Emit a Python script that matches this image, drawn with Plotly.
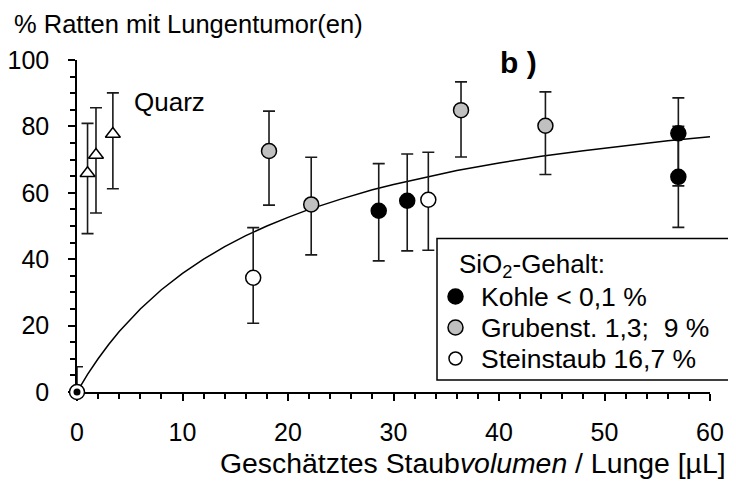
import plotly.graph_objects as go

# ---- data ----
kohle_x = [28.6, 31.3, 57.0, 57.0]
kohle_y = [54.6, 57.6, 77.9, 64.8]
kohle_hi = [68.8, 71.7, 88.6, 80.0]
kohle_lo = [39.5, 42.5, 62.1, 49.6]

grube_x = [18.2, 22.2, 36.4, 44.4]
grube_y = [72.6, 56.5, 84.9, 80.2]
grube_hi = [84.6, 70.7, 93.4, 90.4]
grube_lo = [56.3, 41.3, 70.8, 65.5]

stein_x = [16.7, 33.3]
stein_y = [34.4, 57.9]
stein_hi = [49.5, 72.2]
stein_lo = [20.7, 42.7]

quarz_x = [1.0, 1.8, 3.4]
quarz_y = [65.9, 71.4, 77.7]
quarz_hi = [80.9, 85.6, 90.1]
quarz_lo = [47.7, 53.9, 61.2]

kontrolle_x = [0.0]
kontrolle_y = [0.0]
kontrolle_hi = [7.6]
kontrolle_lo = [0.0]

curve_x = [0, 1, 2, 3, 4, 5, 6, 8, 10, 12, 14, 16, 18, 20, 22, 25, 28, 30, 33, 36, 40, 44, 48, 52, 56, 60]
curve_y = [0, 5.3, 10.0, 14.3, 18.2, 21.7, 25.0, 30.8, 35.7, 40.0, 43.8, 47.1, 50.0, 52.6, 55.0,
           58.1, 60.9, 62.5, 64.7, 66.7, 69.0, 71.0, 72.7, 74.3, 75.7, 76.9]

x_ticks = [0, 10, 20, 30, 40, 50, 60]
y_ticks = [0, 20, 40, 60, 80, 100]

legend_title = "SiO<sub>2</sub>-Gehalt:"
legend_labels = ["Kohle < 0,1 %", "Grubenst. 1,3;  9 %", "Steinstaub 16,7 %"]
legend_fills = ["#000000", "#c0c0c0", "#ffffff"]

FONT = "Liberation Sans, Arial, sans-serif"

# plot-area geometry (pixels in the final page)
PL, PT, PW, PH = 77, 60, 633, 332
XR, YR = (0, 60), (0, 100)


def px2x(px):
    return XR[0] + (px - PL) / PW * (XR[1] - XR[0])


def py2y(py):
    return YR[0] + (PT + PH - py) / PH * (YR[1] - YR[0])


def px2paper(px):
    return (px - PL) / PW


def py2paper(py):
    return (PT + PH - py) / PH


def err(y, hi, lo):
    return dict(type="data", symmetric=False,
                array=[h - v for h, v in zip(hi, y)],
                arrayminus=[v - l for v, l in zip(y, lo)],
                width=6, thickness=1.6, color="#1a1a1a")


fig = go.Figure()

fig.add_trace(go.Scatter(x=curve_x, y=curve_y, mode="lines",
                         line=dict(color="black", width=1.5),
                         showlegend=False, hoverinfo="skip", cliponaxis=False))

fig.add_trace(go.Scatter(x=quarz_x, y=quarz_y, mode="markers",
                         marker=dict(symbol="triangle-up", size=13, color="white",
                                     line=dict(color="black", width=1.5)),
                         error_y=err(quarz_y, quarz_hi, quarz_lo),
                         showlegend=False, cliponaxis=False))

fig.add_trace(go.Scatter(x=kontrolle_x, y=kontrolle_y, mode="markers",
                         marker=dict(symbol="circle", size=15, color="white",
                                     line=dict(color="black", width=1.5)),
                         error_y=err(kontrolle_y, kontrolle_hi, kontrolle_lo),
                         showlegend=False, cliponaxis=False))
fig.add_trace(go.Scatter(x=kontrolle_x, y=kontrolle_y, mode="markers",
                         marker=dict(symbol="circle", size=7, color="black"),
                         showlegend=False, cliponaxis=False))

for xs, ys, hi, lo, fill in [(kohle_x, kohle_y, kohle_hi, kohle_lo, legend_fills[0]),
                             (grube_x, grube_y, grube_hi, grube_lo, legend_fills[1]),
                             (stein_x, stein_y, stein_hi, stein_lo, legend_fills[2])]:
    fig.add_trace(go.Scatter(x=xs, y=ys, mode="markers",
                             marker=dict(symbol="circle", size=15, color=fill,
                                         line=dict(color="black", width=1.5)),
                             error_y=err(ys, hi, lo), showlegend=False, cliponaxis=False))

axis_common = dict(showline=True, linecolor="black", linewidth=1.5, showgrid=False,
                   zeroline=False, ticks="outside", ticklen=7, tickwidth=1.5,
                   tickcolor="black", automargin=False, layer="below traces",
                   tickfont=dict(family=FONT, size=25, color="black"))

fig.update_xaxes(range=list(XR), tickvals=x_ticks, ticktext=[str(v) for v in x_ticks],
                 minor=dict(dtick=2, ticklen=5, tickwidth=1.5, tickcolor="black",
                            ticks="outside", showgrid=False),
                 ticklabelstandoff=10, **axis_common)
fig.update_yaxes(range=list(YR), tickvals=y_ticks, ticktext=[str(v) for v in y_ticks],
                 minor=dict(dtick=5, ticklen=5, tickwidth=1.5, tickcolor="black",
                            ticks="outside", showgrid=False),
                 ticklabelstandoff=14, **axis_common)

fig.add_annotation(text="% Ratten mit Lungentumor(en)", xref="paper", yref="paper",
                   x=px2paper(12), y=py2paper(24), xanchor="left", yanchor="middle",
                   showarrow=False, font=dict(family=FONT, size=25.5, color="black"))
fig.add_annotation(text="Geschätztes Staub<i>volumen</i> / Lunge [µL]", xref="paper",
                   yref="paper", x=px2paper(728), y=py2paper(463), xanchor="right",
                   yanchor="middle", showarrow=False,
                   font=dict(family=FONT, size=28.4, color="black"))
fig.add_annotation(text="Quarz", x=px2x(132), y=py2y(102), xanchor="left", yanchor="middle",
                   showarrow=False, font=dict(family=FONT, size=26, color="black"))
fig.add_annotation(text="<b>b )</b>", x=px2x(498), y=py2y(62), xanchor="left",
                   yanchor="middle", showarrow=False,
                   font=dict(family=FONT, size=30, color="black"))

# ---- hand-drawn legend box (runs to the right edge like the reference) ----
fig.add_shape(type="rect", xref="paper", yref="paper", x0=px2paper(437), x1=px2paper(745),
              y0=py2paper(380), y1=py2paper(238.5), line=dict(color="black", width=1.5),
              fillcolor="white", layer="below")
fig.add_annotation(text=legend_title, xref="paper", yref="paper", x=px2paper(457),
                   y=py2paper(265), xanchor="left", yanchor="middle", showarrow=False,
                   font=dict(family=FONT, size=26, color="black"))
row_py = [296.5, 327.5, 358.5]
key_sizes = [15, 15, 13]
for fill, p, s in zip(legend_fills, row_py, key_sizes):
    fig.add_trace(go.Scatter(x=[px2x(455.5)], y=[py2y(p)], mode="markers",
                             marker=dict(symbol="circle", size=s, color=fill,
                                         line=dict(color="black", width=1.5)),
                             showlegend=False, hoverinfo="skip", cliponaxis=False))
for lab, p in zip(legend_labels, row_py):
    fig.add_annotation(text=lab, xref="paper", yref="paper", x=px2paper(479),
                       y=py2paper(p), xanchor="left", yanchor="middle", showarrow=False,
                       font=dict(family=FONT, size=26.5, color="black"))

# page has an 8px body margin, so the figure is shifted by 8px
fig.update_layout(
    width=736, height=488,
    margin=dict(l=PL - 8, r=736 - (PL - 8) - PW, t=PT - 8, b=488 - (PT - 8) - PH,
                autoexpand=False),
    paper_bgcolor="white", plot_bgcolor="white",
    font=dict(family=FONT, size=25, color="black"),
    showlegend=False,
)

fig.write_html("out.html")
